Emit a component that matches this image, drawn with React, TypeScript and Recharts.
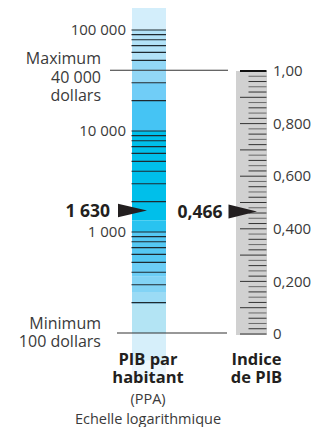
import React from "react";
import {
  ComposedChart,
  XAxis,
  YAxis,
  ReferenceLine,
  ReferenceArea,
  ReferenceDot,
} from "recharts";

// ---------- data ----------
const gdpValue = 1630;
const gdpValueLabel = "1 630";
const indexValue = 0.466;
const indexValueLabel = "0,466";

const gdpMaximum = 40000;
const gdpMaximumLabel = ["Maximum", "40 000", "dollars"];
const gdpMinimum = 100;
const gdpMinimumLabel = ["Minimum", "100 dollars"];

const gdpLabeledTicks = [100000, 10000, 1000];
const gdpTickLabels = ["100 000", "10 000", "1 000"];
const gdpMinorTicks = [
  200, 300, 400, 500, 600, 700, 800, 900,
  2000, 3000, 4000, 5000, 6000, 7000, 8000, 9000,
  20000, 30000, 50000, 60000, 70000, 80000, 90000,
];

// colour bands of the logarithmic bar (edges top -> bottom)
const gdpBandEdges = [165000, 100000, 50000, 30000, 20000, 10000, 1300, 1000, 500, 360, 255, 190, 100, 53, 34];
const gdpBandColors = [
  "#d3eefb", "#b2e2f7", "#92d7f6", "#70cdf7", "#45c4f4", "#00bfea",
  "#29c3f0", "#55c8f3", "#6ccdf5", "#82d3f5", "#9bdbf5", "#b3e4f4",
  "#d6effa", "#edf7fd",
];

const indexMajorTicks = [0, 0.1, 0.2, 0.3, 0.4, 0.5, 0.6, 0.7, 0.8, 0.9];
const indexTopTick = 1.0;
const indexMinorTicks = [
  0.02, 0.04, 0.06, 0.08, 0.12, 0.14, 0.16, 0.18, 0.22, 0.24, 0.26, 0.28,
  0.32, 0.34, 0.36, 0.38, 0.42, 0.44, 0.46, 0.48, 0.52, 0.54, 0.56, 0.58,
  0.62, 0.64, 0.66, 0.68, 0.72, 0.74, 0.76, 0.78, 0.82, 0.84, 0.86, 0.88,
  0.92, 0.94, 0.96, 0.98,
];
const indexLabeledTicks = [1.0, 0.8, 0.6, 0.4, 0.2, 0];
const indexTickLabels = ["1,00", "0,800", "0,600", "0,400", "0,200", "0"];

const leftTitle = ["PIB par", "habitant"];
const leftSubtitle = ["(PPA)", "Echelle logarithmique"];
const rightTitle = ["Indice", "de PIB"];

const chartData = [{ x: 0 }];

// ---------- layout ----------
const W = 315;
const H = 427;
const FONT = "'Open Sans', 'Noto Sans', sans-serif";
const TEXT = "#3a3a3a";
const DARK = "#231f20";

const BAR_L = 132;
const BAR_R = 166;
const GRAY_L = 236;
const GRAY_R = 267;
const GT_MAJOR_L = 240;
const GT_MINOR_L = 248.5;
const GT_R = 266.5;

const textAt = (lines: string[], anchor: string, size: number, weight: number, dys: number[], dx = 0, color = TEXT) =>
  (p: any) => (
    <g>
      {lines.map((t, i) => (
        <text
          key={i}
          x={p.cx + dx}
          y={p.cy + dys[i]}
          textAnchor={anchor}
          fontFamily={FONT}
          fontSize={size}
          fontWeight={weight}
          fill={color}
        >
          {t}
        </text>
      ))}
    </g>
  );

const arrow = (baseOffset: number, half: number, label: string, textGap: number) => (p: any) => (
  <g>
    <polygon
      points={`${p.cx - baseOffset},${p.cy - half} ${p.cx - baseOffset},${p.cy + half} ${p.cx},${p.cy}`}
      fill={DARK}
    />
    <text
      x={p.cx - baseOffset - textGap}
      y={p.cy + 6.5}
      textAnchor="end"
      fontFamily={FONT}
      fontSize={17.5}
      fontWeight={700}
      fill={DARK}
    >
      {label}
    </text>
  </g>
);

export default function App() {
  return (
    <div style={{ position: "absolute", left: 0, top: 0, width: W, height: H, background: "#fff" }}>
      <ComposedChart width={W} height={H} data={chartData} margin={{ top: 0, right: 0, bottom: 0, left: 0 }}>
        <XAxis type="number" dataKey="x" domain={[0, W]} allowDataOverflow hide />
        <YAxis yAxisId="gdp" scale="log" type="number" domain={[11.73, 198160]} allowDataOverflow hide />
        <YAxis yAxisId="idx" type="number" domain={[-0.35361, 1.26996]} allowDataOverflow hide />

        {/* logarithmic bar bands */}
        {gdpBandColors.map((c, i) => (
          <ReferenceArea
            key={"band" + i}
            yAxisId="gdp"
            x1={BAR_L}
            x2={BAR_R}
            y1={gdpBandEdges[i + 1]}
            y2={gdpBandEdges[i]}
            fill={c}
            fillOpacity={1}
            stroke="none"
          />
        ))}

        {/* gray index bar */}
        <ReferenceArea yAxisId="idx" x1={GRAY_L} x2={GRAY_R} y1={-0.004} y2={1.0} fill="#d1d1d1" fillOpacity={1} stroke="none" />

        {/* log ticks */}
        {[...gdpMinorTicks, ...gdpLabeledTicks].map((v) => (
          <ReferenceLine
            key={"gt" + v}
            yAxisId="gdp"
            segment={[{ x: BAR_L - 0.5, y: v }, { x: BAR_R, y: v }]}
            stroke="#1e2a30"
            strokeWidth={1.1}
          />
        ))}

        {/* max / min lines */}
        <ReferenceLine yAxisId="gdp" segment={[{ x: 110, y: gdpMaximum }, { x: 228, y: gdpMaximum }]} stroke="#333" strokeWidth={1.1} />
        <ReferenceLine yAxisId="gdp" segment={[{ x: 117, y: gdpMinimum }, { x: 227, y: gdpMinimum }]} stroke="#333" strokeWidth={1.1} />

        {/* index ticks */}
        {indexMinorTicks.map((v, i) => (
          <ReferenceLine key={"im" + v} yAxisId="idx" segment={[{ x: GT_MINOR_L, y: v }, { x: GT_R, y: v }]} stroke={i % 2 === 0 ? "#333" : "#6a6a6a"} strokeWidth={1} />
        ))}
        {indexMajorTicks.map((v) => (
          <ReferenceLine key={"iM" + v} yAxisId="idx" segment={[{ x: GT_MAJOR_L, y: v }, { x: GT_R, y: v }]} stroke="#333" strokeWidth={1} />
        ))}
        <ReferenceLine yAxisId="idx" segment={[{ x: GT_MAJOR_L, y: indexTopTick }, { x: GT_R, y: indexTopTick }]} stroke="#111" strokeWidth={2} />

        {/* log tick labels */}
        {gdpLabeledTicks.map((v, i) => (
          <ReferenceDot key={"gl" + v} yAxisId="gdp" x={126} y={v} r={0} shape={textAt([gdpTickLabels[i]], "end", 15, 400, [5.2])} />
        ))}

        {/* index tick labels */}
        {indexLabeledTicks.map((v, i) => (
          <ReferenceDot key={"il" + v} yAxisId="idx" x={273} y={v} r={0} shape={textAt([indexTickLabels[i]], "start", 15, 400, [5.2])} />
        ))}

        {/* max / min annotations */}
        <ReferenceDot yAxisId="gdp" x={101} y={gdpMaximum} r={0} shape={textAt(gdpMaximumLabel, "end", 16, 400, [-6.5, 12.8, 31.2])} />
        <ReferenceDot yAxisId="gdp" x={101} y={gdpMinimum} r={0} shape={textAt(gdpMinimumLabel, "end", 16, 400, [-3.7, 13.7])} />

        {/* value arrows */}
        <ReferenceDot yAxisId="gdp" x={147} y={gdpValue} r={0} shape={arrow(29, 6.8, gdpValueLabel, 8)} />
        <ReferenceDot yAxisId="idx" x={257} y={indexValue} r={0} shape={arrow(28.5, 7, indexValueLabel, 6)} />

        {/* titles */}
        <ReferenceDot yAxisId="gdp" x={148} y={gdpMinimum} r={0} shape={textAt(leftTitle, "middle", 16.5, 700, [32, 50.5], 0, DARK)} />
        <ReferenceDot yAxisId="gdp" x={148} y={gdpMinimum} r={0} shape={textAt(leftSubtitle, "middle", 14.5, 400, [71, 91.5])} />
        <ReferenceDot yAxisId="gdp" x={256.5} y={gdpMinimum} r={0} shape={textAt(rightTitle, "middle", 16.5, 700, [32, 50], 0, DARK)} />
      </ComposedChart>
    </div>
  );
}
